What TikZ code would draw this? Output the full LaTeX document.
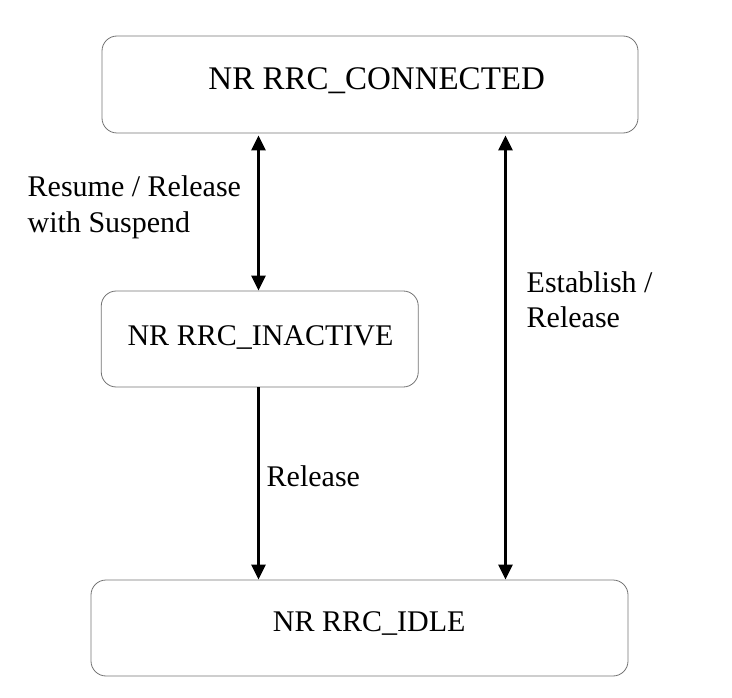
\documentclass[tikz,border=0pt]{standalone}
\usepackage{fontspec}
\setmainfont{Liberation Serif}
\usetikzlibrary{arrows.meta}

\begin{document}
\begin{tikzpicture}[x=1pt, y=-1pt, >={Triangle[length=15pt,width=14pt]},
  every node/.style = {font=\fontsize{30pt}{35.5pt}\selectfont, inner sep=0pt},
  state/.style = {shape=rectangle, rounded corners=15pt,
    draw=black!55, line width=0.8pt},
  title/.style = {anchor=base},
  note/.style = {align=left, anchor=west},
  trans/.style = {line width=2.8pt}]
  \useasboundingbox (0,0) rectangle (732,698);
  % states
  \node[state, minimum width=536pt, minimum height=97pt] (conn) at (370,84.5) {};
  \node[state, minimum width=317pt, minimum height=96pt] (inact) at (259.75,339) {};
  \node[state, minimum width=537pt, minimum height=96pt] (idle) at (359.5,628) {};
  \node[title, font=\fontsize{33pt}{38pt}\selectfont] (conntext) at (376.7,90) {NR RRC\_CONNECTED};
  \node[title] (inacttext) at (260.5,345.7) {NR RRC\_INACTIVE};
  \node[title] (idletext) at (369.2,631.7) {NR RRC\_IDLE};
  % transitions
  \coordinate (res) at (258.5,0);
  \coordinate (est) at (505.5,0);
  \draw[trans, <->, shorten <=2pt] (conn.south -| res) -- (inact.north -| res);
  \draw[trans, ->] (inact.south -| res) -- (idle.north -| res);
  \draw[trans, <->, shorten <=2pt] (conn.south -| est) -- (idle.north -| est);
  \node[note] (resume) at (27.5,207.3) {Resume / Release\\with Suspend};
  \node[note] (establish) at (526.5,299.5) {Establish /\\Release};
  \node[note, anchor=base west] (release) at (266.5,486) {Release};
\end{tikzpicture}
\end{document}
